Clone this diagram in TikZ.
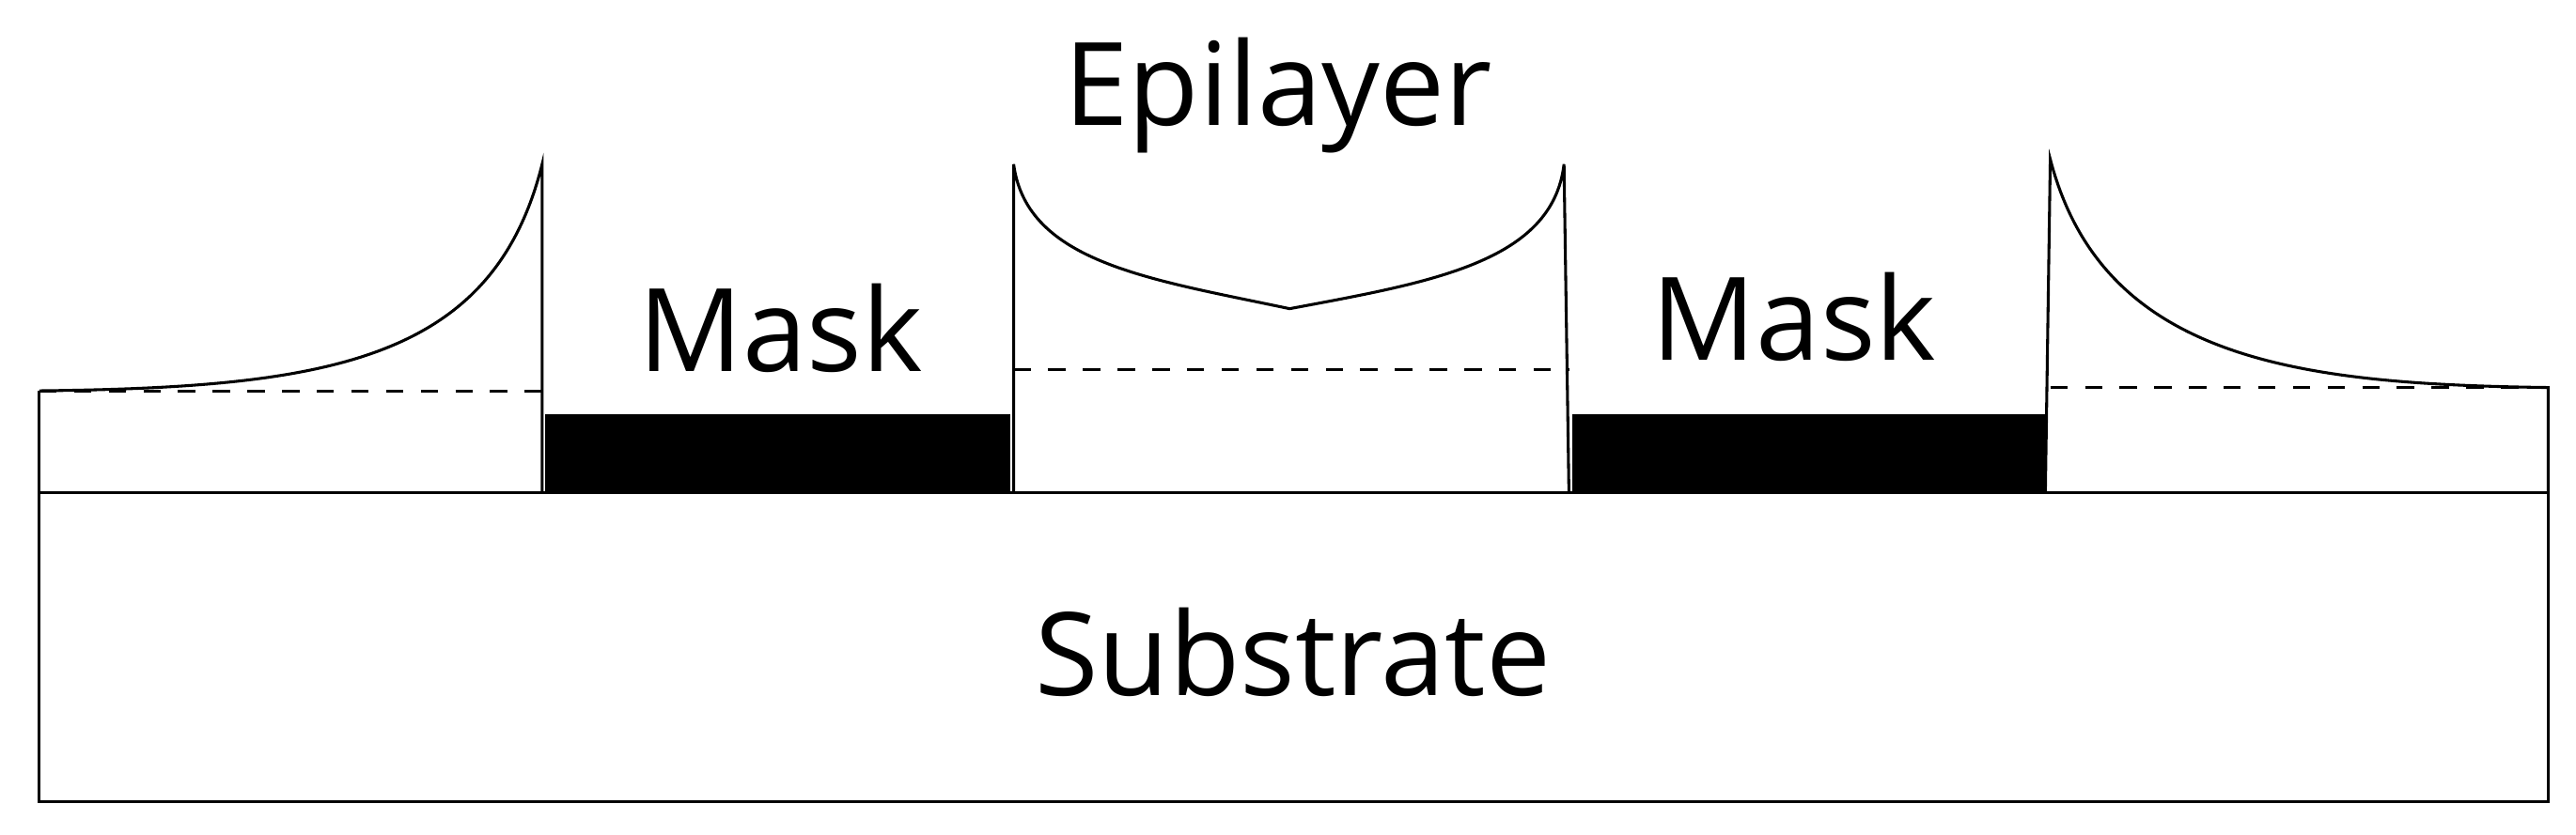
\documentclass[tikz,border=0pt]{standalone}
\usepackage{fontspec}
\setmainfont{Open Sans}
\begin{document}
\begin{tikzpicture}[x=0.01cm,y=-0.01cm,
  ln/.style={line width=0.5pt,black},
  lbl/.style={font=\fontsize{20}{24}\selectfont,inner sep=0pt}]
\useasboundingbox (0,0) rectangle (1568,508);
\draw[ln] (24,300) rectangle (1551,488);
\node[lbl] (sub) at (787,397) {Substrate};
% left block
\draw[ln] (24,300) -- (24,238);
\draw[ln,dashed] (24,238) -- (330,238);
\draw[ln] (24,238) .. controls (200,236) and (300,220) .. (330,100) -- (330,300);
\fill[black] (332,252) rectangle (615,300);
\node[lbl] (m1) at (475,200) {Mask};
% middle
\draw[ln] (617,300) -- (617,100) .. controls (625,160) and (700,170) .. (785,188)
  .. controls (870,172) and (945,160) .. (952,100) -- (955,300);
\draw[ln,dashed] (617,225) -- (955,225);
\node[lbl] (epi) at (778,58) {Epilayer};
\fill[black] (957,252) rectangle (1245,300);
\node[lbl] (m2) at (1092,193) {Mask};
% right
\draw[ln] (1245,300) -- (1248,97) .. controls (1280,220) and (1400,234) .. (1551,236) -- (1551,300);
\draw[ln,dashed] (1248,236) -- (1551,236);
\end{tikzpicture}
\end{document}
